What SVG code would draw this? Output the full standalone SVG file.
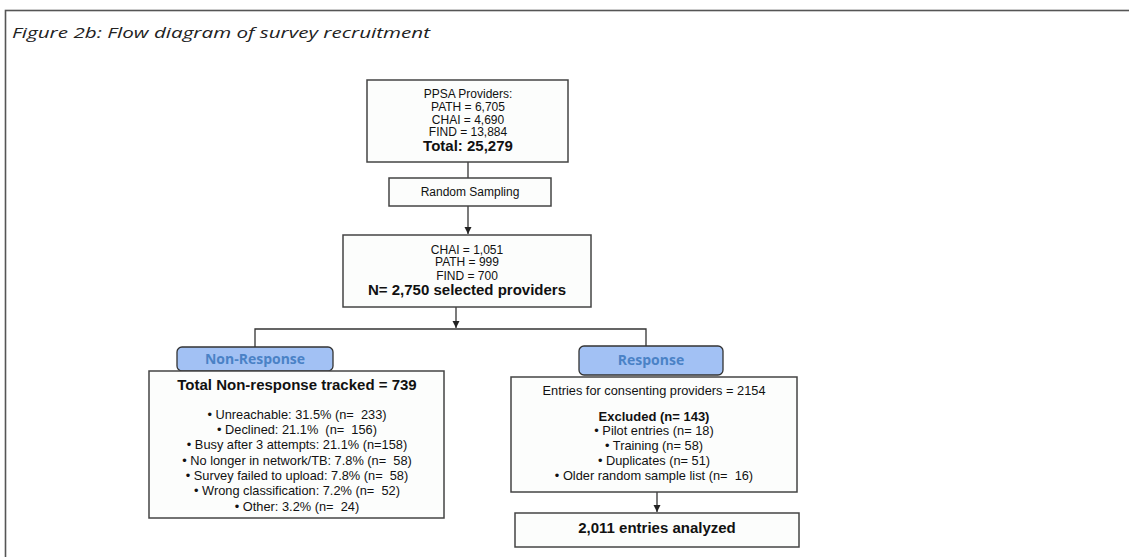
<svg xmlns="http://www.w3.org/2000/svg" width="1129" height="557" viewBox="0 0 1129 557">
<defs>
<style>
text{white-space:pre}
.box{fill:#fcfdfc;stroke:#444;stroke-width:1.5}
.lbl{fill:#a2c1f4;stroke:#333;stroke-width:1.3}
.t{font-family:"Liberation Sans",Arial,sans-serif;font-size:12px;fill:#111;text-anchor:middle}
.l{font-family:"Liberation Sans",Arial,sans-serif;font-size:12.8px;fill:#111;text-anchor:middle}
.b{font-family:"Liberation Sans",Arial,sans-serif;font-size:15px;font-weight:bold;fill:#111;text-anchor:middle}
.bs{font-family:"Liberation Sans",Arial,sans-serif;font-size:13px;font-weight:bold;fill:#111;text-anchor:middle}
.lt{font-family:"Open Sans","Noto Sans",sans-serif;font-size:14px;font-weight:bold;fill:#4a82c6;text-anchor:middle}
.ln{fill:none;stroke:#333;stroke-width:1.3}
</style>
<marker id="arr" markerWidth="8" markerHeight="8" refX="7" refY="4" orient="auto" markerUnits="userSpaceOnUse">
<path d="M0,0.5 L7,4 L0,7.5 Z" fill="#222"/>
</marker>
</defs>
<rect x="0" y="0" width="1129" height="557" fill="#fff"/>
<rect x="5.5" y="10.5" width="1140" height="560" fill="none" stroke="#555" stroke-width="1.6"/>
<text x="12" y="38" font-family="'Open Sans','Noto Sans',sans-serif" font-size="15" font-style="italic" fill="#222" textLength="418" lengthAdjust="spacingAndGlyphs">Figure 2b: Flow diagram of survey recruitment</text>

<g id="connectors">
<line class="ln" x1="468" y1="162" x2="468" y2="178"/>
<line class="ln" x1="468" y1="206" x2="468" y2="234" marker-end="url(#arr)"/>
<line class="ln" x1="456" y1="307" x2="456" y2="328" marker-end="url(#arr)"/>
<polyline class="ln" points="255,347 255,329 646,329 646,346"/>
<line class="ln" x1="657" y1="492" x2="657" y2="512" marker-end="url(#arr)"/>
</g>

<g id="providers">
<rect class="box" x="367" y="80" width="201" height="82"/>
<text class="t" x="468" y="98">PPSA Providers:</text>
<text class="t" x="468" y="111">PATH = 6,705</text>
<text class="t" x="468" y="124">CHAI = 4,690</text>
<text class="t" x="468" y="136">FIND = 13,884</text>
<text class="b" x="468" y="151">Total: 25,279</text>
</g>

<g id="sampling">
<rect class="box" x="389" y="178" width="162" height="28"/>
<text class="t" x="470" y="196">Random Sampling</text>
</g>

<g id="selected">
<rect class="box" x="343" y="235" width="248" height="72"/>
<text class="t" x="467" y="254">CHAI = 1,051</text>
<text class="t" x="467" y="266">PATH = 999</text>
<text class="t" x="467" y="280">FIND = 700</text>
<text class="b" x="467" y="295">N= 2,750 selected providers</text>
</g>

<g id="nonresponse-label">
<rect class="lbl" x="177" y="347" width="156" height="24" rx="5"/>
<text class="lt" x="255" y="364">Non-Response</text>
</g>

<g id="nonresponse">
<rect class="box" x="149" y="371" width="295" height="147"/>
<text class="b" x="297" y="390">Total Non-response tracked = 739</text>
<text class="l" x="297" y="419">• Unreachable: 31.5% (n=  233)</text>
<text class="l" x="297" y="434">• Declined: 21.1%  (n=  156)</text>
<text class="l" x="297" y="449">• Busy after 3 attempts: 21.1% (n=158)</text>
<text class="l" x="297" y="465">• No longer in network/TB: 7.8% (n=  58)</text>
<text class="l" x="297" y="480">• Survey failed to upload: 7.8% (n=  58)</text>
<text class="l" x="297" y="495">• Wrong classification: 7.2% (n=  52)</text>
<text class="l" x="297" y="511">• Other: 3.2% (n=  24)</text>
</g>

<g id="response-label">
<rect class="lbl" x="579" y="346" width="144" height="29" rx="5"/>
<text class="lt" x="651" y="365">Response</text>
</g>

<g id="response">
<rect class="box" x="511" y="377" width="286" height="115"/>
<text class="l" x="654" y="395">Entries for consenting providers = 2154</text>
<text class="bs" x="654" y="421">Excluded (n= 143)</text>
<text class="l" x="654" y="435">• Pilot entries (n= 18)</text>
<text class="l" x="654" y="450">• Training (n= 58)</text>
<text class="l" x="654" y="465">• Duplicates (n= 51)</text>
<text class="l" x="654" y="480">• Older random sample list (n=  16)</text>
</g>

<g id="analyzed">
<rect class="box" x="515" y="513" width="284" height="34"/>
<text class="b" x="657" y="533">2,011 entries analyzed</text>
</g>
</svg>
